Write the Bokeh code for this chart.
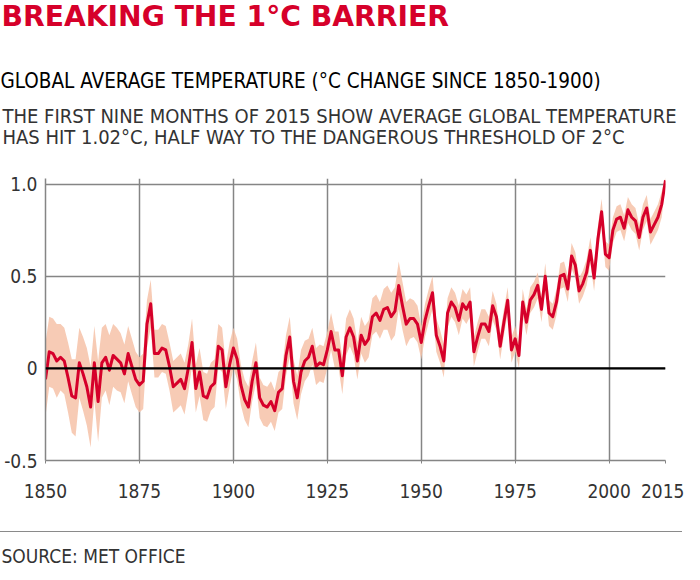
from bokeh.plotting import figure
from bokeh.models import FixedTicker, Span, Title, Range1d, Div
from bokeh.layouts import column
from bokeh.embed import file_html
from bokeh.resources import INLINE

years = list(range(1850, 2016))
temps = [
    -0.06, 0.09, 0.08, 0.04, 0.06, 0.04, -0.05, -0.15, -0.16, 0.03,
    -0.03, -0.10, -0.21, 0.03, -0.18, 0.03, 0.06, -0.01, 0.07, 0.05,
    0.03, -0.03, 0.08, 0.01, -0.06, -0.09, -0.07, 0.24, 0.35, 0.08,
    0.08, 0.11, 0.10, 0.01, -0.10, -0.08, -0.06, -0.11, 0.00, 0.14,
    -0.11, -0.02, -0.15, -0.16, -0.10, -0.08, 0.12, 0.10, -0.10, 0.02,
    0.11, 0.05, -0.09, -0.17, -0.21, -0.07, 0.03, -0.16, -0.20, -0.21,
    -0.18, -0.23, -0.13, -0.11, 0.07, 0.17, -0.07, -0.16, -0.02, 0.04,
    0.06, 0.12, 0.01, 0.03, 0.02, 0.10, 0.20, 0.10, 0.10, -0.04,
    0.17, 0.22, 0.17, 0.04, 0.18, 0.13, 0.16, 0.28, 0.30, 0.26,
    0.32, 0.33, 0.28, 0.31, 0.45, 0.34, 0.24, 0.27, 0.27, 0.24,
    0.14, 0.26, 0.34, 0.41, 0.18, 0.12, 0.04, 0.30, 0.36, 0.33,
    0.26, 0.35, 0.32, 0.36, 0.09, 0.17, 0.24, 0.24, 0.20, 0.34,
    0.28, 0.12, 0.25, 0.37, 0.10, 0.16, 0.07, 0.36, 0.25, 0.37,
    0.40, 0.45, 0.32, 0.50, 0.30, 0.28, 0.36, 0.50, 0.51, 0.43,
    0.61, 0.56, 0.42, 0.46, 0.52, 0.64, 0.49, 0.70, 0.85, 0.62,
    0.60, 0.75, 0.81, 0.82, 0.76, 0.86, 0.82, 0.80, 0.71, 0.82,
    0.87, 0.74, 0.78, 0.82, 0.89, 1.02,
]
uncert = [
    0.20, 0.19, 0.19, 0.20, 0.18, 0.18, 0.19, 0.20, 0.21, 0.19,
    0.20, 0.21, 0.22, 0.20, 0.22, 0.19, 0.18, 0.19, 0.17, 0.17,
    0.16, 0.16, 0.15, 0.15, 0.15, 0.15, 0.15, 0.13, 0.13, 0.13,
    0.13, 0.13, 0.13, 0.13, 0.14, 0.14, 0.14, 0.14, 0.13, 0.13,
    0.13, 0.13, 0.13, 0.13, 0.13, 0.13, 0.12, 0.12, 0.12, 0.12,
    0.11, 0.11, 0.11, 0.11, 0.11, 0.11, 0.11, 0.11, 0.11, 0.11,
    0.11, 0.11, 0.11, 0.11, 0.11, 0.11, 0.12, 0.12, 0.12, 0.11,
    0.10, 0.10, 0.10, 0.10, 0.10, 0.10, 0.10, 0.10, 0.10, 0.10,
    0.10, 0.10, 0.10, 0.10, 0.10, 0.10, 0.10, 0.10, 0.10, 0.10,
    0.11, 0.12, 0.13, 0.13, 0.13, 0.13, 0.12, 0.11, 0.10, 0.10,
    0.09, 0.09, 0.09, 0.09, 0.09, 0.09, 0.09, 0.08, 0.08, 0.08,
    0.08, 0.08, 0.08, 0.08, 0.08, 0.08, 0.08, 0.08, 0.08, 0.08,
    0.07, 0.07, 0.07, 0.07, 0.07, 0.07, 0.07, 0.07, 0.07, 0.07,
    0.07, 0.07, 0.07, 0.07, 0.07, 0.07, 0.07, 0.07, 0.07, 0.07,
    0.07, 0.07, 0.07, 0.07, 0.07, 0.07, 0.07, 0.07, 0.07, 0.07,
    0.07, 0.07, 0.07, 0.07, 0.07, 0.07, 0.07, 0.07, 0.07, 0.07,
    0.07, 0.07, 0.07, 0.07, 0.07, 0.02,
]
x_ticks = [1850, 1875, 1900, 1925, 1950, 1975, 2000, 2015]
y_ticks = [-0.5, 0, 0.5, 1.0]
y_tick_labels = {-0.5: "-0.5", 0: "0", 0.5: "0.5", 1.0: "1.0"}

title_text = "BREAKING THE 1°C BARRIER"
subtitle_text = "GLOBAL AVERAGE TEMPERATURE (°C CHANGE SINCE 1850-1900)"
desc_lines = [
    "THE FIRST NINE MONTHS OF 2015 SHOW AVERAGE GLOBAL TEMPERATURE",
    "HAS HIT 1.02°C, HALF WAY TO THE DANGEROUS THRESHOLD OF 2°C",
]
source_text = "SOURCE: MET OFFICE"

COND = "DejaVu Sans Condensed"
GRID = "#858585"

lower = [t - u for t, u in zip(temps, uncert)]
upper = [t + u for t, u in zip(temps, uncert)]

p = figure(frame_width=620, frame_height=282, output_backend="svg", toolbar_location=None,
           x_range=Range1d(1850, 2015), y_range=Range1d(-0.5, 1.03),
           min_border_left=45, min_border_right=19, min_border_top=0,
           min_border_bottom=0)
p.outline_line_color = None
p.background_fill_color = "white"
p.border_fill_color = "white"

p.varea(x=years, y1=lower, y2=upper, fill_color="#f6c2a8", fill_alpha=0.85)
p.add_layout(Span(location=0, dimension="width", line_color="black", line_width=2.2))
p.line(years, temps, line_color="#d6002a", line_width=3, line_join="round")

p.xaxis.ticker = FixedTicker(ticks=x_ticks)
p.yaxis.ticker = FixedTicker(ticks=y_ticks)
p.yaxis.major_label_overrides = y_tick_labels
for ax in (p.xaxis, p.yaxis):
    ax.axis_line_color = GRID
    ax.axis_line_width = 1.5
    ax.major_tick_line_color = GRID
    ax.minor_tick_line_color = None
    ax.major_label_text_font = COND
    ax.major_label_text_font_size = "19px"
    ax.major_label_text_color = "#333333"
p.xaxis.major_tick_out = 3
p.xaxis.major_tick_in = 0
p.yaxis.major_tick_out = 0
p.yaxis.major_tick_in = 0
p.xaxis.major_label_standoff = 20
p.yaxis.major_label_standoff = 8

p.xgrid.grid_line_color = GRID
p.xgrid.grid_line_width = 1.5
p.ygrid.grid_line_color = GRID
p.ygrid.grid_line_width = 1.5

def spacer(px):
    return Title(text=" ", text_font="DejaVu Sans", text_font_size=f"{px}px", standoff=0)

# titles stacked upward from the plot
p.add_layout(spacer(26.0), "above")
p.add_layout(Title(text=desc_lines[1], align="left", offset=-43, standoff=-5,
                   text_font=COND, text_font_size="20px",
                   text_font_style="normal", text_color="#333333"), "above")
p.add_layout(Title(text=desc_lines[0], align="left", offset=-43, standoff=-5,
                   text_font=COND, text_font_size="20px",
                   text_font_style="normal", text_color="#333333"), "above")
p.add_layout(spacer(9.0), "above")
p.add_layout(Title(text=subtitle_text, align="left", offset=-45, standoff=0,
                   text_font=COND, text_font_size="20.5px",
                   text_font_style="normal", text_color="#000000"), "above")
p.add_layout(spacer(29.2), "above")
p.add_layout(Title(text=title_text, align="left", offset=-44, standoff=-5,
                   text_font="DejaVu Sans", text_font_size="28.2px", text_font_style="bold",
                   text_color="#d6002a"), "above")

# footer: thin rule, then the source line
rule = Div(text="", width=682, height=32, margin=(0, 0, 0, 0),
           styles={"border-bottom": "1px solid #8a8a8a", "box-sizing": "border-box"})

foot = figure(width=684, height=46, output_backend="svg", toolbar_location=None,
              x_range=Range1d(0, 1), y_range=Range1d(0, 1),
              min_border_left=45, min_border_right=19, min_border_top=0,
              min_border_bottom=0, x_axis_type=None, y_axis_type=None)
foot.outline_line_color = None
foot.xgrid.visible = False
foot.ygrid.visible = False
foot.add_layout(Title(text=source_text, align="left", offset=-44, standoff=20,
                      text_font=COND, text_font_size="19px", text_font_style="normal",
                      text_color="#333333"), "above")

layout = column(p, rule, foot, spacing=0)
open("out.html", "w").write(file_html(layout, INLINE))
